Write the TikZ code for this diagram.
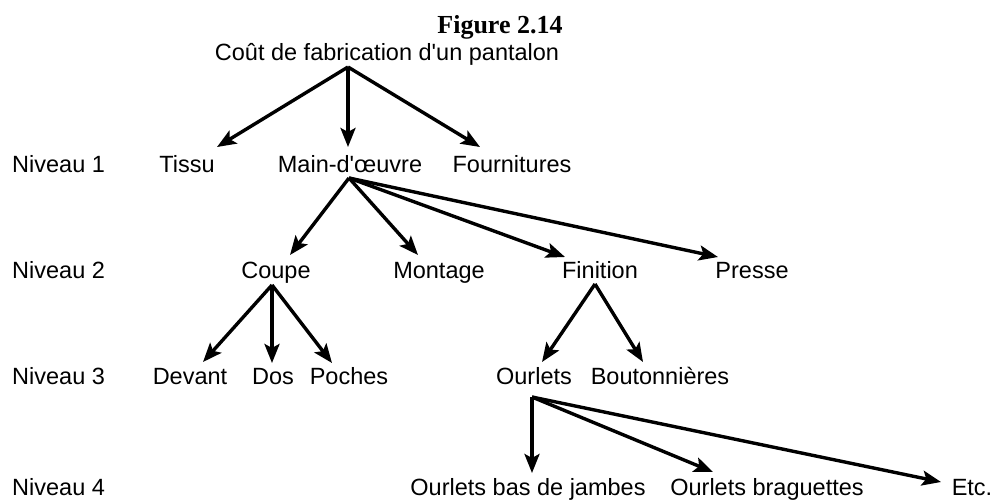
\documentclass[tikz,border=0pt]{standalone}
\usepackage{fontspec}
\setmainfont{Liberation Sans}
\newfontfamily\figserif{Liberation Serif}
\usetikzlibrary{arrows.meta}
\tikzset{
  lbl/.style={inner sep=0pt, anchor=base, font=\fontsize{23.5}{26}\selectfont},
  lvl/.style={inner sep=0pt, anchor=base west, font=\fontsize{23.5}{26}\selectfont},
  arr/.style={line width=3.4pt, -{Stealth[length=19pt,width=15pt,inset=4pt]}}
}
\begin{document}
\begin{tikzpicture}[x=1pt,y=-1pt]
\useasboundingbox[fill=white] (0,0) rectangle (993,499);
% title
\node[inner sep=0pt, anchor=base, font=\figserif\bfseries\fontsize{26}{28}\selectfont] (fig) at (500,33) {Figure 2.14};
\node[lbl] (root) at (387,60) {Coût de fabrication d\textquotesingle un pantalon};
% level labels
\node[lvl] (n1) at (12,172) {Niveau 1};
\node[lvl] (n2) at (12,278) {Niveau 2};
\node[lvl] (n3) at (12,384) {Niveau 3};
\node[lvl] (n4) at (12,495) {Niveau 4};
% level 1
\node[lbl] (tissu) at (187,172) {Tissu};
\node[lbl] (main) at (350,172) {Main-d\textquotesingle œuvre};
\node[lbl] (fourn) at (512,172) {Fournitures};
% level 2
\node[lbl] (coupe) at (276,278) {Coupe};
\node[lbl] (montage) at (439,278) {Montage};
\node[lbl] (finition) at (600,278) {Finition};
\node[lbl] (presse) at (752,278) {Presse};
% level 3
\node[lbl] (devant) at (190,384) {Devant};
\node[lbl] (dos) at (273,384) {Dos};
\node[lbl] (poches) at (349,384) {Poches};
\node[lbl] (ourlets) at (534,384) {Ourlets};
\node[lbl] (bouton) at (660,384) {Boutonnières};
% level 4
\node[lbl] (bas) at (528,495) {Ourlets bas de jambes};
\node[lbl] (brag) at (767,495) {Ourlets braguettes};
\node[lbl] (etc) at (972,495) {Etc.};
% apex points
\coordinate (rootA) at ([xshift=-39pt,yshift=-7pt]root.base);
\coordinate (mainA) at ([xshift=-1pt,yshift=-6pt]main.base);
\coordinate (coupeA) at ([xshift=-4pt,yshift=-7pt]coupe.base);
\coordinate (finA) at ([xshift=-5pt,yshift=-6pt]finition.base);
\coordinate (ourA) at ([xshift=-2pt,yshift=-13pt]ourlets.base);
% arrows
\draw[arr] (rootA) -- ([xshift=30pt,yshift=25pt]tissu.base);
\draw[arr] (rootA) -- ([xshift=-2pt,yshift=25pt]main.base);
\draw[arr] (rootA) -- ([xshift=-32pt,yshift=25pt]fourn.base);
\draw[arr] (mainA) -- ([xshift=14pt,yshift=23pt]coupe.base);
\draw[arr] (mainA) -- ([xshift=-21pt,yshift=23pt]montage.base);
\draw[arr] (mainA) -- ([xshift=-35pt,yshift=21pt]finition.base);
\draw[arr] (mainA) -- ([xshift=-34pt,yshift=21pt]presse.base);
\draw[arr] (coupeA) -- ([xshift=13pt,yshift=22pt]devant.base);
\draw[arr] (coupeA) -- ([xshift=-1pt,yshift=21pt]dos.base);
\draw[arr] (coupeA) -- ([xshift=-17pt,yshift=21pt]poches.base);
\draw[arr] (finA) -- ([xshift=8pt,yshift=22pt]ourlets.base);
\draw[arr] (finA) -- ([xshift=-17pt,yshift=22pt]bouton.base);
\draw[arr] (ourA) -- ([xshift=4pt,yshift=22pt]bas.base);
\draw[arr] (ourA) -- ([xshift=-54pt,yshift=23pt]brag.base);
\draw[arr] (ourA) -- ([xshift=-31pt,yshift=13pt]etc.base);
\end{tikzpicture}
\end{document}
